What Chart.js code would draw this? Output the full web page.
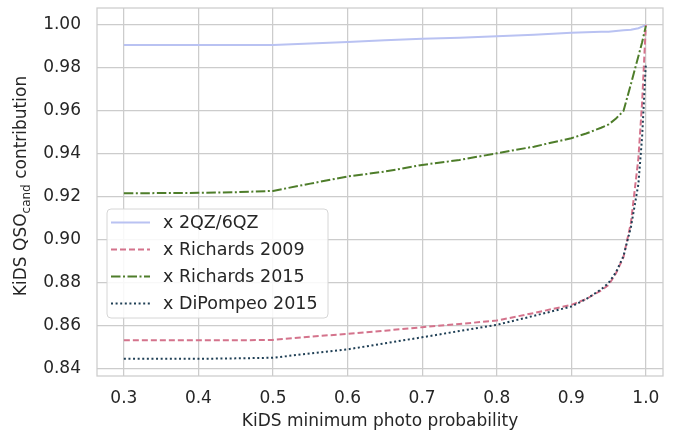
<!DOCTYPE html>
<html>
<head>
<meta charset="utf-8">
<script src="https://cdn.jsdelivr.net/npm/chart.js@4.4.1/dist/chart.umd.min.js"></script>
<style>
    body { margin: 0; background: #fff; }
</style>
</head>
<body>
<canvas id="myCanvas" width="689" height="435"></canvas>
<script>
// minimum photo probability cut
const minProb = [0.3, 0.35, 0.4, 0.45, 0.5, 0.55, 0.6, 0.65, 0.7, 0.75, 0.8, 0.85, 0.9,
                 0.92, 0.94, 0.95, 0.96, 0.97, 0.98, 0.99, 0.995, 1.0];

const qz2qz6 = [0.9907, 0.9907, 0.9907, 0.9907, 0.9907, 0.9914, 0.9921, 0.9929, 0.9936, 0.9941, 0.9947, 0.9955, 0.9964,
                0.9966, 0.9968, 0.9969, 0.9972, 0.9975, 0.9978, 0.9985, 0.9992, 1.0];
const richards2009 = [0.8533, 0.8533, 0.8533, 0.8533, 0.8535, 0.8550, 0.8563, 0.8578, 0.8594, 0.8609, 0.8625, 0.8660, 0.8698,
                      0.8725, 0.8765, 0.8790, 0.8845, 0.8920, 0.9080, 0.9380, 0.9640, 1.0];
const richards2015 = [0.9217, 0.9218, 0.9219, 0.9222, 0.9228, 0.9262, 0.9295, 0.9318, 0.9349, 0.9372, 0.9403, 0.9434, 0.9473,
                      0.9495, 0.9522, 0.9537, 0.9565, 0.9600, 0.9725, 0.9855, 0.9920, 0.9995];
const dipompeo2015 = [0.8447, 0.8447, 0.8447, 0.8449, 0.8452, 0.8472, 0.8491, 0.8519, 0.8547, 0.8576, 0.8605, 0.8647, 0.8690,
                      0.8725, 0.8770, 0.8800, 0.8850, 0.8925, 0.9060, 0.9260, 0.9480, 0.9820];

const xTicks = [0.3, 0.4, 0.5, 0.6, 0.7, 0.8, 0.9, 1.0];
const yTicks = [0.84, 0.86, 0.88, 0.90, 0.92, 0.94, 0.96, 0.98, 1.00];

const textColor = "#262626";
const gridColor = "#cccccc";
const fontFamily = "'DejaVu Sans', sans-serif";

function pts(ys) {
    return minProb.map((x, i) => ({ x: x, y: ys[i] }));
}

// frame around the plot area (seaborn whitegrid style)
const framePlugin = {
    id: "frame",
    beforeDatasetsDraw(chart) {
        const a = chart.chartArea;
        const c = chart.ctx;
        c.save();
        c.strokeStyle = gridColor;
        c.lineWidth = 1.25;
        c.strokeRect(a.left, a.top, a.right - a.left, a.bottom - a.top);
        c.restore();
    }
};

// y axis title with subscript
const yTitlePlugin = {
    id: "yTitle",
    afterDraw(chart) {
        const c = chart.ctx;
        const a = chart.chartArea;
        const big = "17px " + fontFamily;
        const small = "12px " + fontFamily;
        const p1 = "KiDS QSO", p2 = "cand", p3 = " contribution";
        c.save();
        c.font = big;
        const w1 = c.measureText(p1).width, w3 = c.measureText(p3).width;
        c.font = small;
        const w2 = c.measureText(p2).width;
        const total = w1 + w2 + w3;
        c.translate(22, (a.top + a.bottom) / 2 - 6);
        c.rotate(-Math.PI / 2);
        c.fillStyle = textColor;
        c.textBaseline = "middle";
        c.textAlign = "left";
        let x = -total / 2;
        c.font = big;
        c.fillText(p1, x, 0);
        x += w1;
        c.font = small;
        c.fillText(p2, x, 5);
        x += w2;
        c.font = big;
        c.fillText(p3, x, 0);
        c.restore();
    }
};

// legend inside the plot, lower left
const legendPlugin = {
    id: "innerLegend",
    afterDatasetsDraw(chart) {
        const c = chart.ctx;
        const a = chart.chartArea;
        const bx = a.left + 10, by = a.bottom - 167, bw = 221, bh = 109, r = 4;
        c.save();
        c.beginPath();
        c.roundRect(bx, by, bw, bh, r);
        c.fillStyle = "rgba(255,255,255,0.85)";
        c.fill();
        c.strokeStyle = "#d6d6d6";
        c.lineWidth = 1;
        c.stroke();
        c.font = "17.5px " + fontFamily;
        c.textBaseline = "middle";
        chart.data.datasets.forEach((ds, i) => {
            const y = by + 13.5 + i * 27;
            c.beginPath();
            c.setLineDash(ds.borderDash || []);
            c.strokeStyle = ds.borderColor;
            c.lineWidth = ds.borderWidth;
            c.moveTo(bx + 4, y);
            c.lineTo(bx + 43, y);
            c.stroke();
            c.setLineDash([]);
            c.fillStyle = textColor;
            c.fillText(ds.label, bx + 56, y + 1);
        });
        c.restore();
    }
};

function noEdgePadding(s) {
    s.paddingTop = 0;
    s.paddingBottom = 0;
    s.paddingLeft = 0;
    s.paddingRight = 0;
}

const ctx = document.getElementById("myCanvas").getContext("2d");

const chart = new Chart(ctx, {
    type: "line",
    data: {
        datasets: [
            {
                label: "x 2QZ/6QZ",
                data: pts(qz2qz6),
                borderColor: "#b9c2f2",
                borderWidth: 2,
                order: 3
            },
            {
                label: "x Richards 2009",
                data: pts(richards2009),
                borderColor: "#d4738c",
                borderWidth: 2,
                borderDash: [6, 3],
                order: 2
            },
            {
                label: "x Richards 2015",
                data: pts(richards2015),
                borderColor: "#4e7d2a",
                borderWidth: 2,
                borderDash: [9.5, 2.5, 2, 2.5],
                order: 1
            },
            {
                label: "x DiPompeo 2015",
                data: pts(dipompeo2015),
                borderColor: "#1f3f55",
                borderWidth: 2,
                borderDash: [2, 2.6],
                order: 0
            }
        ]
    },
    options: {
        responsive: false,
        animation: false,
        elements: {
            point: { radius: 0 },
            line: { tension: 0, fill: false }
        },
        layout: {
            padding: { top: 8, right: 26, bottom: 0, left: 0 }
        },
        scales: {
            x: {
                type: "linear",
                min: 0.264,
                max: 1.023,
                afterBuildTicks: s => { s.ticks = xTicks.map(v => ({ value: v })); },
                afterFit: s => { s.height = 59; noEdgePadding(s); },
                grid: { color: gridColor, lineWidth: 1.25, drawTicks: false },
                border: { display: false },
                ticks: {
                    callback: v => v.toFixed(1),
                    color: textColor,
                    font: { family: fontFamily, size: 17 },
                    padding: 12,
                    maxRotation: 0
                },
                title: {
                    display: true,
                    text: "KiDS minimum photo probability",
                    color: textColor,
                    font: { family: fontFamily, size: 17 },
                    padding: { top: 0, bottom: 3 }
                }
            },
            y: {
                type: "linear",
                min: 0.8367,
                max: 1.0079,
                afterBuildTicks: s => { s.ticks = yTicks.map(v => ({ value: v })); },
                afterFit: s => { s.width = 97; noEdgePadding(s); },
                grid: { color: gridColor, lineWidth: 1.25, drawTicks: false },
                border: { display: false },
                ticks: {
                    callback: v => v.toFixed(2),
                    color: textColor,
                    font: { family: fontFamily, size: 17 },
                    padding: 16
                }
            }
        },
        plugins: {
            legend: { display: false },
            tooltip: { enabled: false }
        }
    },
    plugins: [framePlugin, yTitlePlugin, legendPlugin]
});
</script>
</body>
</html>
